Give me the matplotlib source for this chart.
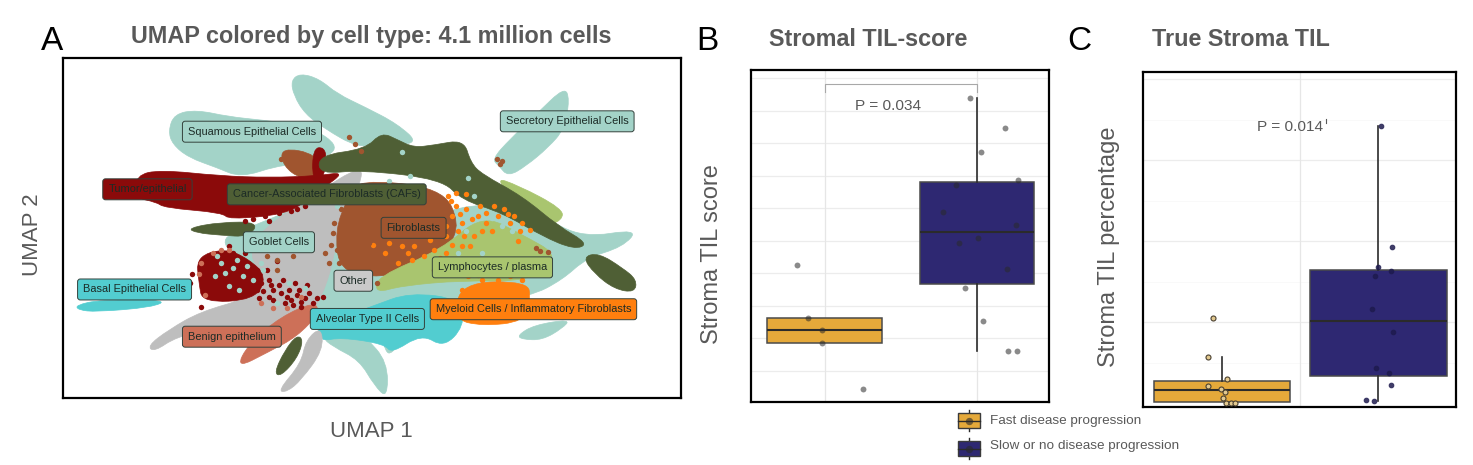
import matplotlib
matplotlib.use('Agg')
import matplotlib.pyplot as plt
from matplotlib.patches import PathPatch, Rectangle
from matplotlib.path import Path

plt.rcParams['font.family'] = ['Liberation Sans', 'DejaVu Sans']

W, H = 1473, 465
TXT = '#595959'

# colours of the cell types
TEAL = '#a3d3c8'
GRAY = '#bebebe'
SIENNA = '#a0552f'
SALMON = '#cd7058'
DARKRED = '#8b0a0a'
OLIVE = '#4f5f35'
GREEN = '#a9c56f'
ORANGE = '#ff7f0e'
TURQ = '#52cdd0'

# umap clusters, outlines
teal_top = [(575, 95), (598, 74), (645, 90), (690, 135), (760, 175), (840, 225), (895, 285), (800, 285), (740, 295), (660, 240), (610, 195), (582, 140)]
teal_squamous = [(270, 245), (285, 195), (340, 183), (420, 203), (500, 213), (620, 230), (700, 295), (640, 335), (600, 345), (540, 350), (450, 385), (390, 355), (320, 325), (280, 285)]
teal_secretory = [(1075, 330), (1120, 270), (1190, 190), (1255, 115), (1268, 150), (1255, 240), (1215, 295), (1160, 350), (1115, 382), (1092, 350)]
teal_body = [(480, 530), (640, 450), (800, 600), (1000, 450), (1200, 500), (1300, 565), (1440, 538), (1400, 592), (1310, 625), (1250, 690), (1170, 740), (1000, 770), (900, 760), (700, 800), (560, 740), (470, 650), (390, 570)]
teal_spike1 = [(650, 860), (700, 805), (760, 860), (815, 935), (815, 1045), (782, 1005), (745, 930), (680, 890)]
teal_spike2 = [(800, 850), (865, 850), (825, 912), (810, 905)]
teal_small = [(1138, 856), (1180, 825), (1270, 808), (1250, 835), (1200, 870), (1150, 868)]
gray_main = [(750, 348), (750, 400), (690, 540), (680, 640), (650, 745), (625, 785), (560, 850), (400, 830), (290, 860), (235, 905), (218, 888), (270, 840), (350, 785), (470, 745), (510, 680), (470, 620), (500, 540), (640, 430)]
gray_spike = [(542, 1022), (600, 940), (612, 870), (650, 830), (655, 900), (600, 990), (565, 1025)]
sienna_top = [(550, 295), (640, 315), (655, 385), (600, 390), (555, 350)]
sienna_main = [(740, 390), (950, 415), (995, 520), (965, 600), (905, 650), (800, 685), (695, 665), (685, 540), (715, 450)]
salmon_main = [(438, 955), (470, 880), (550, 800), (635, 755), (645, 790), (590, 860), (520, 905)]
red_tumor = [(190, 378), (250, 362), (400, 380), (520, 385), (640, 380), (710, 368), (650, 420), (620, 450), (560, 495), (420, 510), (405, 490), (260, 475), (240, 458), (185, 445)]
red_thin = [(630, 298), (657, 294), (664, 330), (654, 392), (628, 392)]
red_lower = [(340, 622), (410, 596), (470, 628), (515, 680), (485, 750), (355, 758), (346, 700)]
olive_top = [(645, 318), (760, 300), (800, 250), (840, 272), (880, 295), (930, 288), (1005, 272), (1022, 340), (1050, 375), (1150, 440), (1240, 530), (1315, 582), (1280, 600), (1200, 560), (1100, 490), (1000, 452), (950, 390), (750, 362), (645, 375)]
olive_right = [(1300, 622), (1340, 610), (1400, 655), (1435, 690), (1430, 728), (1380, 718), (1330, 672)]
olive_left = [(318, 536), (400, 518), (495, 518), (470, 562), (400, 557), (340, 550)]
olive_bottom = [(533, 968), (560, 900), (590, 855), (606, 870), (590, 925), (550, 978)]
green_top = [(1075, 382), (1140, 408), (1250, 478), (1250, 512), (1200, 535)]
green_main = [(790, 680), (950, 600), (1050, 495), (1150, 555), (1245, 620), (1170, 695), (1000, 692), (850, 708), (785, 730)]
orange_main = [(998, 698), (1165, 695), (1170, 750), (1155, 815), (1050, 828), (980, 808)]
turq_main = [(636, 830), (780, 768), (870, 728), (1000, 748), (1005, 830), (955, 892), (900, 852), (825, 910), (808, 882), (700, 862), (648, 874)]
turq_tail = [(40, 766), (100, 750), (268, 750), (230, 772), (90, 786), (46, 780)]

cluster_layers = [
    (teal_top, TEAL), (teal_squamous, TEAL), (teal_secretory, TEAL), (teal_body, TEAL),
    (teal_spike1, TEAL), (teal_spike2, TEAL), (teal_small, TEAL),
    (turq_main, TURQ), (turq_tail, TURQ),
    (gray_main, GRAY), (gray_spike, GRAY),
    (sienna_top, SIENNA), (sienna_main, SIENNA), (salmon_main, SALMON),
    (green_top, GREEN), (green_main, GREEN), (orange_main, ORANGE),
    (red_tumor, DARKRED), (red_thin, DARKRED), (red_lower, DARKRED),
    (olive_top, OLIVE), (olive_right, OLIVE), (olive_left, OLIVE), (olive_bottom, OLIVE),
]

# scattered cells around the clusters
orange_pts = [(965, 440), (985, 470), (975, 500), (1010, 480), (1040, 500), (1060, 520), (1090, 500), (1120, 520), (1145, 545), (990, 545), (1000, 590), (1030, 560), (960, 610), (930, 600), (905, 620), (880, 590), (850, 590), (820, 580), (780, 585), (1075, 545), (1105, 480), (1010, 435), (985, 430), (1130, 500), (1170, 540), (1045, 470), (960, 560), (875, 630), (840, 640), (1000, 520), (1015, 680), (1050, 690), (1090, 690),
              (972, 455), (995, 495), (1025, 510), (1050, 545), (1080, 470), (1115, 495), (1150, 520), (1005, 560), (975, 585), (945, 625), (920, 570), (865, 610), (810, 610), (1020, 590), (1060, 490), (990, 640), (960, 530), (1140, 575), (1000, 720), (985, 760), (1040, 675), (1120, 680), (1150, 690)]
red_pts = [(520, 690), (545, 705), (570, 720), (590, 735), (610, 745), (640, 745), (575, 750), (550, 730), (530, 720), (600, 755), (620, 730), (500, 700), (520, 740), (560, 760), (490, 720), (655, 740), (585, 700), (540, 635), (460, 610), (430, 610), (375, 715), (330, 672), (510, 500), (545, 490), (480, 510), (440, 495), (575, 485), (600, 770),
           (505, 725), (530, 750), (565, 740), (595, 720), (630, 760), (615, 705), (490, 660), (515, 660), (525, 705), (555, 690), (495, 745), (580, 765), (470, 700), (325, 700), (350, 770), (420, 590), (590, 480), (520, 515), (460, 515), (610, 470)]
sienna_pts = [(720, 265), (735, 285), (748, 305), (575, 345), (550, 330), (1095, 345), (1100, 335), (1088, 330), (1185, 595), (1215, 608), (1195, 605), (680, 550), (690, 600), (670, 640), (540, 632), (515, 620), (770, 580), (800, 570),
              (682, 520), (675, 585), (695, 640), (660, 610), (580, 620), (540, 660), (765, 668), (720, 680), (735, 660), (700, 480), (790, 700), (930, 660)]
teal_pts = [(430, 655), (455, 680), (400, 640), (480, 690), (440, 630), (505, 660), (420, 710), (1010, 545), (1100, 530), (990, 610), (1050, 610), (1015, 385), (850, 310), (1030, 440), (570, 700), (610, 715),
            (385, 680), (410, 670), (465, 650), (445, 720), (390, 620), (500, 640), (540, 760), (1075, 505), (1125, 545), (790, 420), (870, 380), (690, 470), (820, 395)]
salmon_pts = [(350, 640), (380, 610), (345, 672), (420, 600), (400, 600), (500, 760), (530, 775), (565, 775), (590, 790), (600, 740), (360, 735)]

speckles = [(orange_pts, ORANGE), (red_pts, DARKRED), (sienna_pts, SIENNA), (teal_pts, TEAL), (salmon_pts, SALMON)]

# cluster labels
label_names = ['Squamous Epithelial Cells', 'Secretory Epithelial Cells', 'Tumor/epithelial',
               'Cancer-Associated Fibroblasts (CAFs)', 'Fibroblasts', 'Goblet Cells',
               'Lymphocytes / plasma', 'Other', 'Basal Epithelial Cells',
               'Myeloid Cells / Inflammatory Fibroblasts', 'Alveolar Type II Cells', 'Benign epithelium']
label_x = [478, 1262, 218, 664, 880, 545, 1076, 730, 186, 1178, 765, 428]
label_y = [248, 217, 420, 435, 535, 578, 653, 693, 719, 778, 807, 860]
label_fill = [TEAL, TEAL, DARKRED, OLIVE, SIENNA, TEAL, GREEN, '#c9c9c9', TURQ, ORANGE, TURQ, SALMON]

# panel B, Stroma TIL score
b_fast_x = [0.819, 0.891, 0.985, 0.98, 1.251]
b_fast_y = [16.2, 8.05, 6.3, 4.3, -2.82]
b_slow_x = [1.954, 2.183, 2.028, 2.271, 1.865, 1.777, 2.258, 2.009, 1.884, 2.194, 1.921, 2.041, 2.203, 2.26]
b_slow_y = [41.98, 37.42, 33.68, 29.32, 28.55, 24.4, 22.4, 20.4, 19.58, 15.68, 12.66, 7.59, 3.02, 3.02]
b_stats = [dict(whislo=4.3, q1=4.3, med=6.3, q3=8.05, whishi=8.05),
           dict(whislo=3.02, q1=13.38, med=21.32, q3=29.11, whishi=41.98)]

# panel C, Stroma TIL percentage
c_fast_x = [0.94, 0.91, 1.032, 0.908, 0.991, 1.021, 1.006, 1.024, 1.06, 1.085]
c_fast_y = [21.07, 11.44, 6.0, 4.28, 3.62, 2.88, 1.23, 0.16, 0.16, 0.16]
c_slow_x = [2.015, 2.09, 1.996, 2.081, 1.979, 1.957, 2.096, 1.985, 2.066, 2.083, 1.921, 1.974]
c_slow_y = [68.48, 38.6, 33.58, 32.67, 31.44, 23.29, 17.61, 8.81, 7.49, 4.53, 0.74, 0.58]
c_stats = [dict(whislo=0.41, q1=0.41, med=3.37, q3=5.6, whishi=11.44),
           dict(whislo=0.58, q1=6.75, med=20.41, q3=32.92, whishi=68.48)]

FAST = '#e5a93a'
SLOW = '#2e2872'
legend_names = ['Fast disease progression', 'Slow or no disease progression']


def px_axes(left, right, top, bottom):
    # axes placed from pixel edges of the picture
    return fig.add_axes([left / W, 1 - bottom / H, (right - left) / W, (bottom - top) / H])


def blob(pts):
    # closed outline with rounded corners, vertices act as curve controls
    n = len(pts)
    mid = [((pts[i][0] + pts[(i + 1) % n][0]) / 2, (pts[i][1] + pts[(i + 1) % n][1]) / 2) for i in range(n)]
    verts = [mid[-1]]
    codes = [Path.MOVETO]
    for i in range(n):
        verts += [pts[i], mid[i]]
        codes += [Path.CURVE3, Path.CURVE3]
    return Path(verts, codes)


def frame(ax):
    ax.set_xticks([])
    ax.set_yticks([])
    for s in ax.spines.values():
        s.set_linewidth(1.6)
        s.set_color('black')


def boxes(ax, stats, width):
    for st, col, pos in zip(stats, [FAST, SLOW], [1, 2]):
        ax.bxp([st], positions=[pos], widths=width, patch_artist=True, showfliers=False, showcaps=False,
               boxprops=dict(facecolor=col, edgecolor='#4a4a4a', linewidth=1.1),
               medianprops=dict(color='#2b2b2b', linewidth=1.5),
               whiskerprops=dict(color='#2b2b2b', linewidth=1.2), zorder=2)


fig = plt.figure(figsize=(W / 100, H / 100), dpi=100)

# ---------- panel A ----------
ax_a = px_axes(63, 681, 58, 398)
ax_a.set_xlim(8, 1545)
ax_a.set_ylim(1043, 28)
for pts, col in cluster_layers:
    ax_a.add_patch(PathPatch(blob(pts), facecolor=col, edgecolor=col, linewidth=0.5, zorder=2))
for pts, col in speckles:
    ax_a.scatter([p[0] for p in pts], [p[1] for p in pts], s=15, color=col, linewidths=0, zorder=3)
for i, name in enumerate(label_names):
    ax_a.text(label_x[i], label_y[i], name, fontsize=7.9, color='#1c2b26', ha='center', va='center', zorder=5 + i,
              bbox=dict(boxstyle='round,pad=0.5,rounding_size=0.25', facecolor=label_fill[i], edgecolor='#33413b', linewidth=0.7))
frame(ax_a)

# ---------- panel B ----------
ax_b = px_axes(751, 1049, 70, 402)
ax_b.set_xlim(0.517, 2.472)
ax_b.set_ylim(-4.82, 46.28)
for v in range(0, 50, 5):
    ax_b.axhline(v, color='#ececec', lw=0.9, zorder=0)
for v in [1, 2]:
    ax_b.axvline(v, color='#e6e6e6', lw=0.9, zorder=0)
boxes(ax_b, b_stats, 0.75)
ax_b.scatter(b_fast_x + b_slow_x, b_fast_y + b_slow_y, s=18, color='#2a2a2a', alpha=0.55, linewidths=0, zorder=4)
ax_b.plot([1, 1, 2, 2], [42.95, 44.2, 44.2, 42.95], color='#a8a8a8', lw=0.8, zorder=1)
ax_b.text(1.417, 40.8, 'P = 0.034', fontsize=11.1, color=TXT, ha='center', va='center')
frame(ax_b)

# ---------- panel C ----------
ax_c = px_axes(1143, 1456, 72, 407)
ax_c.set_xlim(0.494, 2.498)
ax_c.set_ylim(-0.9, 81.8)
for v in [20, 40, 60, 80]:
    ax_c.axhline(v, color='#ececec', lw=0.9, zorder=0)
for v in [10, 30, 50, 70]:
    ax_c.axhline(v, color='#f8f8f8', lw=0.6, zorder=0)
ax_c.axvline(1.5, color='#e6e6e6', lw=0.9, zorder=0)
boxes(ax_c, c_stats, 0.876)
ax_c.scatter(c_fast_x, c_fast_y, s=13, facecolors='#e3c98f', edgecolors='#4a4030', linewidths=0.8, zorder=4, clip_on=False)
ax_c.scatter(c_slow_x, c_slow_y, s=12, facecolors='#1e1b4e', edgecolors='#1e1b4e', alpha=0.85, linewidths=0.6, zorder=4, clip_on=False)
ax_c.text(1.436, 68.3, 'P = 0.014', fontsize=11.1, color=TXT, ha='center', va='center')
frame(ax_c)

# ---------- titles, letters, legend on a pixel overlay ----------
over = fig.add_axes([0, 0, 1, 1], facecolor='none')
over.set_xlim(0, W)
over.set_ylim(H, 0)
over.axis('off')

over.text(52, 41, 'A', fontsize=24, color='black', ha='center', va='center')
over.text(707, 41, 'B', fontsize=24, color='black', ha='center', va='center')
over.text(1079, 41, 'C', fontsize=24, color='black', ha='center', va='center')
over.text(371, 37, 'UMAP colored by cell type: 4.1 million cells', fontsize=16.8, fontweight='bold', color=TXT, ha='center', va='center')
over.text(868, 40, 'Stromal TIL-score', fontsize=16.8, fontweight='bold', color=TXT, ha='center', va='center')
over.text(1241, 40, 'True Stroma TIL', fontsize=16.8, fontweight='bold', color=TXT, ha='center', va='center')
over.text(371, 431, 'UMAP 1', fontsize=16, color=TXT, ha='center', va='center')
over.text(33, 235, 'UMAP 2', fontsize=16, color=TXT, ha='center', va='center', rotation=90)
over.text(712, 254, 'Stroma TIL score', fontsize=17, color=TXT, ha='center', va='center', rotation=90)
over.text(1109, 247, 'Stroma TIL percentage', fontsize=17, color=TXT, ha='center', va='center', rotation=90)
over.plot([1326, 1326], [119, 123], color=TXT, lw=0.8)

# legend keys
for name, col, yc, ty in zip(legend_names, [FAST, SLOW], [420.5, 448.5], [421, 446]):
    over.plot([969, 969], [yc - 10.5, yc + 10.5], color='#2b2b2b', lw=1)
    over.add_patch(Rectangle((958, yc - 7.5), 22, 15, facecolor=col, edgecolor='#3a3a3a', lw=1, zorder=3))
    over.plot([958, 980], [yc, yc], color='#2b2b2b', lw=1, zorder=4)
    over.scatter([969], [yc], s=28, color='#2a2a2a', alpha=0.6, linewidths=0, zorder=5)
    over.text(990, ty, name, fontsize=9.7, color=TXT, ha='left', va='center')

fig.savefig('out.png', dpi=100)
